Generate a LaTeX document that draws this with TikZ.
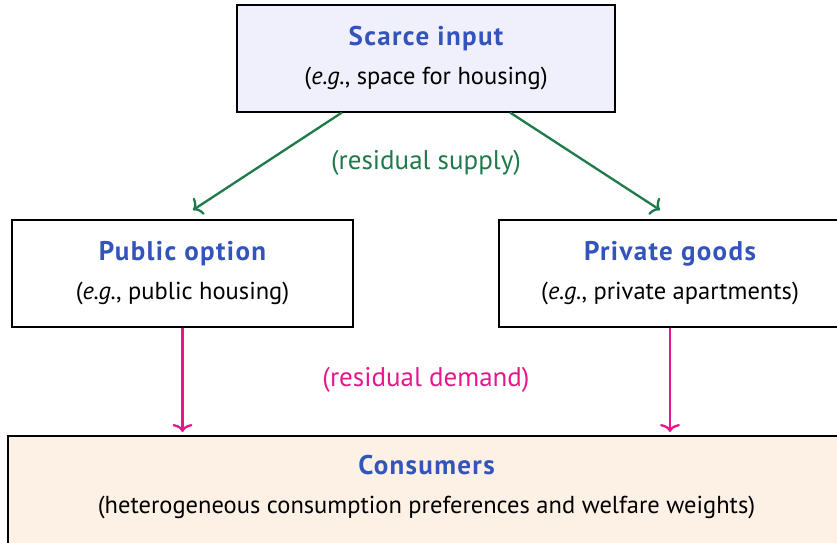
\documentclass[tikz,border=0pt]{standalone}
\usepackage{fontspec}
\setmainfont{PT Sans}
\usetikzlibrary{arrows.meta,positioning}

\definecolor{titleblue}{HTML}{3355BB}
\definecolor{supplygreen}{HTML}{1E7A4A}
\definecolor{demandpink}{HTML}{E8168C}
\definecolor{inputfill}{HTML}{F0F0FC}
\definecolor{consumerfill}{HTML}{FDF0E4}

\newcommand{\boxtitle}[1]{{\bfseries\fontsize{27}{28}\selectfont\addfontfeatures{LetterSpace=5}\color{titleblue}#1}}

\tikzset{
  box/.style={draw=black, line width=2pt, align=center, minimum height=107pt,
    font=\fontsize{24.5}{28}\selectfont},
  flowlabel/.style={font=\fontsize{27}{30}\selectfont},
  flow/.style={line width=2.3pt, -{To[length=8pt,width=20pt]}}
}

\begin{document}
\begin{tikzpicture}[x=1pt,y=-1pt]
  \useasboundingbox (0,0) rectangle (837,542);

  \node[box, fill=inputfill, minimum width=378pt] (input) at (426,58)
    {\boxtitle{Scarce input}\\[11pt] (\emph{e.g.}, space for housing)};
  \node[box, fill=white, minimum width=341pt] (pubopt) at (182.5,273.5)
    {\boxtitle{Public option}\\[11pt] (\emph{e.g.}, public housing)};
  \node[box, fill=white, minimum width=342pt] (privgoods) at (670,273.5)
    {\boxtitle{Private goods}\\[11pt] (\emph{e.g.}, private apartments)};
  \node[box, fill=consumerfill, minimum width=837pt, minimum height=130pt,
    anchor=north] (consumers) at (426.5,435) {};
  \node[align=center, font=\fontsize{24.5}{28}\selectfont] (consumerstext) at (426.5,487.5)
    {\boxtitle{Consumers}\\[11pt] (heterogeneous consumption preferences and welfare weights)};

  % residual supply
  \begin{scope}[flow, supplygreen]
    \draw ([xshift=-84pt]input.south) -- ([shift={(10.5pt,9pt)}]pubopt.north);
    \draw ([xshift=84pt]input.south) -- ([shift={(-10pt,9pt)}]privgoods.north);
  \end{scope}
  \node[flowlabel, text=supplygreen] (supplylabel) at (426,163) {(residual supply)};

  % residual demand
  \begin{scope}[flow, demandpink, shorten >=3pt]
    \draw (pubopt.south) -- (pubopt.south |- consumers.north);
    \draw (privgoods.south) -- (privgoods.south |- consumers.north);
  \end{scope}
  \node[flowlabel, text=demandpink] (demandlabel) at (426,380) {(residual demand)};
\end{tikzpicture}
\end{document}
